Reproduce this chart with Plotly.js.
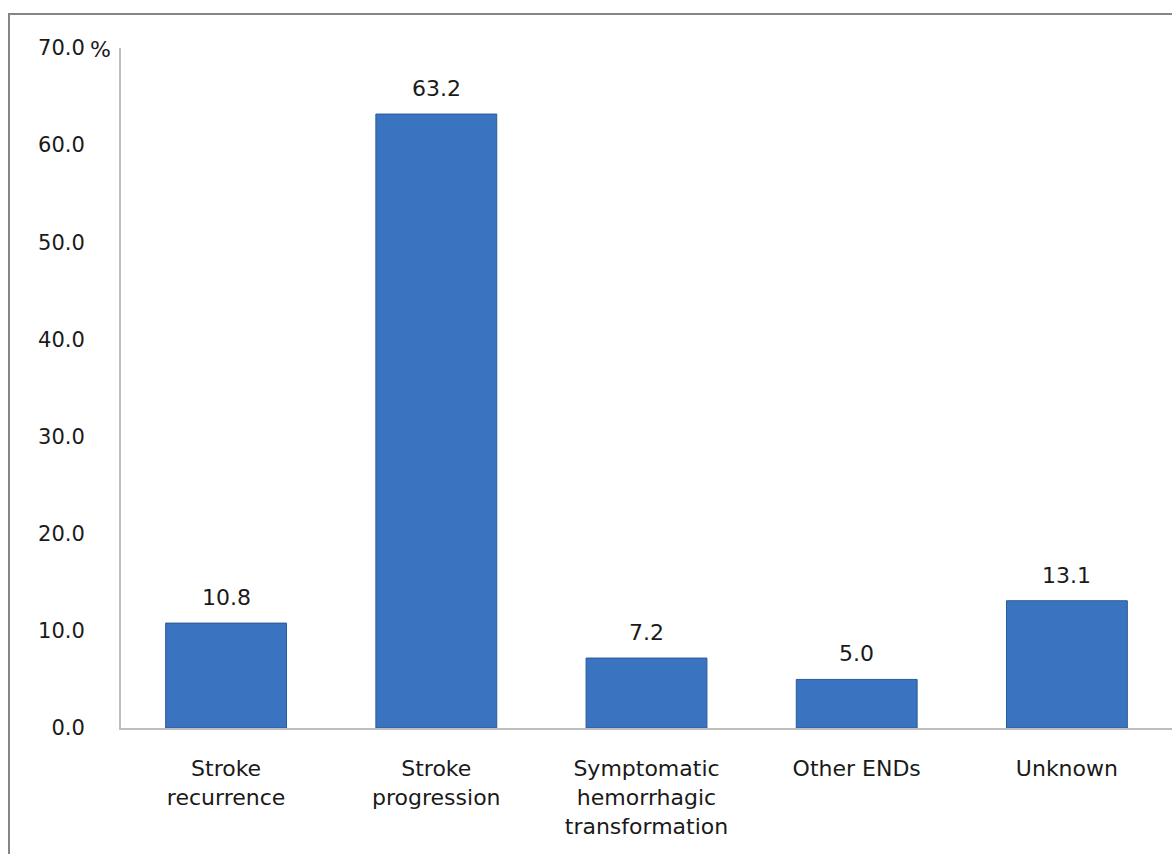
<!DOCTYPE html>
<html>
<head>
<meta charset="utf-8">
<script src="https://cdn.plot.ly/plotly-3.0.1.min.js"></script>
<style>
  html, body { margin: 0; padding: 0; background: #ffffff; }
  #wrap { position: relative; width: 1172px; height: 854px; overflow: hidden; }
  #chart { width: 1172px; height: 854px; }
  #frame { position: absolute; left: 8px; top: 13px; right: -10px; bottom: -10px;
           border-top: 2px solid #858585; border-left: 2px solid #858585; pointer-events: none; }
</style>
</head>
<body>
<div id="wrap">
  <div id="chart"></div>
  <div id="frame"></div>
</div>
<script>
const categories = ["Stroke<br>recurrence", "Stroke<br>progression", "Symptomatic<br>hemorrhagic<br>transformation", "Other ENDs", "Unknown"];
const values = [10.8, 63.2, 7.2, 5.0, 13.1];
const valueLabels = ["10.8", "63.2", "7.2", "5.0", "13.1"];
const yTickVals = [0, 10, 20, 30, 40, 50, 60, 70];
const yTickText = ["0.0", "10.0", "20.0", "30.0", "40.0", "50.0", "60.0", "70.0"];

const fontFam = "'DejaVu Sans', sans-serif";

const trace = {
  type: "bar",
  x: categories,
  y: values,
  marker: { color: "#3a74c0", line: { color: "#2a5a98", width: 1 } },
  hoverinfo: "skip"
};

const annotations = categories.map((c, i) => ({
  x: c, y: values[i], xref: "x", yref: "y",
  text: valueLabels[i], showarrow: false,
  yanchor: "bottom", yshift: 11,
  font: { family: fontFam, size: 22, color: "#1a1a1a" }
}));
annotations.push({
  xref: "paper", yref: "paper", x: -0.0076, y: 0.998, xanchor: "right", yanchor: "middle",
  text: "%", showarrow: false, font: { family: fontFam, size: 22, color: "#1a1a1a" }
});

const layout = {
  width: 1172, height: 854,
  margin: { l: 121, r: 0, t: 48, b: 126, pad: 0 },
  paper_bgcolor: "#ffffff", plot_bgcolor: "#ffffff",
  showlegend: false,
  bargap: 0.425,
  font: { family: fontFam, color: "#1a1a1a" },
  xaxis: {
    type: "category",
    showline: true, linecolor: "#bdbdbd", linewidth: 2,
    ticks: "", showgrid: false, zeroline: false,
    tickfont: { family: fontFam, size: 22, color: "#1a1a1a" },
    ticklabelstandoff: 20
  },
  yaxis: {
    range: [0, 70],
    tickmode: "array", tickvals: yTickVals, ticktext: yTickText,
    showline: true, linecolor: "#bdbdbd", linewidth: 2,
    ticks: "", showgrid: false, zeroline: false,
    tickfont: { family: fontFam, size: 21, color: "#1a1a1a" },
    ticklabelstandoff: 30
  },
  annotations: annotations
};

Plotly.newPlot("chart", [trace], layout, { displayModeBar: false, staticPlot: true });
</script>
</body>
</html>
